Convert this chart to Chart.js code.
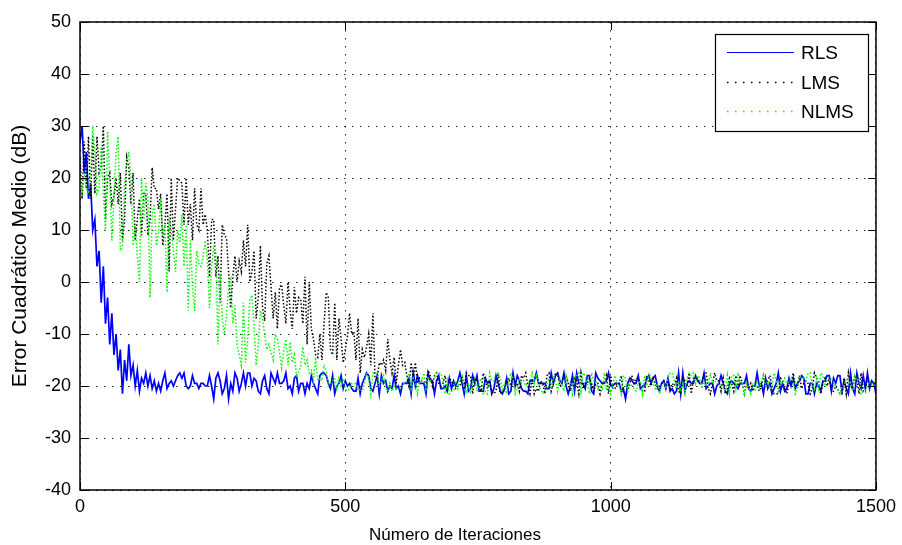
<!DOCTYPE html>
<html>
<head>
<meta charset="utf-8">
<title>Error cuadrático medio</title>
<script src="https://cdn.jsdelivr.net/npm/chart.js@4.4.1/dist/chart.umd.min.js"></script>
<style>
  html, body { margin: 0; padding: 0; background: #fff; }
</style>
</head>
<body>
<canvas id="mse" width="902" height="545"></canvas>
<script>
// error cuadratico medio (dB), una muestra cada 4 iteraciones (0..1500)
const PASO = 4;
const iteraciones = [];
for (let n = 0; n <= 1500; n += PASO) iteraciones.push(n);

const rls = [
  27, 30, 21, 25, 16, 19, 10, 12, 3, 6,
  -4, 3, -8, -3, -12, -6, -14, -10, -17, -13,
  -21.5, -15, -19, -12, -18, -16, -20, -17, -21, -18.5,
  -19.5, -17.5, -20, -18, -20.5, -19,
  -21, -19.5, -21, -19, -17.5, -20.5, -19.5, -19, -20, -19,
  -18, -17.5, -18.5, -17.5, -20, -20.5, -20, -18, -19.5, -19.5,
  -20.5, -19.5, -19.5, -20, -20, -18, -20, -22.5, -18.5, -17.5,
  -19, -21.5, -20.5, -18, -22.5, -19.5, -21, -17.5, -18.5, -21,
  -19.5, -17.5, -20, -17.5, -17.5, -20, -18.5, -19, -21, -21.5,
  -19, -18, -20.5, -21.5, -17.5, -18.5, -19.5, -17.5, -19.5, -19.5,
  -19, -17.5, -20.5, -20, -21.5, -18.5, -18, -21, -19.5, -19.5,
  -21.5, -19.5, -20.5, -18, -19.5, -20.5, -21.5, -18, -17.5, -17.5,
  -18, -19.5, -20.5, -18, -21.5, -20, -19.5, -18, -20.5, -19,
  -20, -19.5, -20.5, -21, -21, -18.5, -21.5, -19.5, -18.5, -17.5,
  -18, -20.5, -21, -19.5, -18, -21.5, -18, -19.5, -19, -21,
  -20, -20.5, -18, -20.5, -20, -21.5, -19.5, -19.5, -19.5, -18.5,
  -21.5, -17.5, -20, -18, -19.5, -19.5, -19.5, -21.5, -17.5, -19,
  -19, -21.5, -19, -18, -20.5, -20.5, -20, -21, -18.5, -20.5,
  -19, -20, -19, -17.5, -19.5, -21.5, -18, -21, -20.5, -18,
  -19.5, -18, -21, -21, -21, -18.5, -19.5, -19, -21.5, -20.5,
  -18, -19.5, -21, -21.5, -20.5, -18.5, -21.5, -21, -17.5, -20,
  -18, -19, -20.5, -21, -21, -21.5, -19, -19, -19, -17.5,
  -19.5, -19.5, -19.5, -19.5, -20.5, -20.5, -17.5, -19.5, -18, -17.5,
  -19, -19.5, -17.5, -20, -21.5, -20, -18, -21, -17.5, -19.5,
  -19.5, -19.5, -20.5, -18, -18, -21, -21.5, -17.5, -18.5, -19,
  -19.5, -19.5, -19, -17.5, -20, -20, -19.5, -19.5, -19.5, -21,
  -20.5, -22.5, -19.5, -18.5, -19, -19.5, -19.5, -18, -20.5, -20,
  -20, -18.5, -18, -19.5, -18.5, -18, -20, -21, -19.5, -19,
  -20.5, -18.5, -21, -20.5, -21.5, -21, -17.5, -21.5, -17.5, -21,
  -19.5, -19, -19.5, -19.5, -18, -19, -19.5, -19.5, -17.5, -20.5,
  -20, -19.5, -19.5, -21.5, -20, -19.5, -18, -19.5, -21, -21.5,
  -19.5, -19, -19.5, -20, -20.5, -19.5, -19.5, -19.5, -18, -20.5,
  -21, -20, -20, -17.5, -20, -19.5, -21.5, -18.5, -20.5, -19.5,
  -21.5, -20.5, -19.5, -17.5, -21, -19.5, -21, -20.5, -18.5, -20,
  -18.5, -20.5, -19.5, -19, -18, -18.5, -21.5, -21.5, -19.5, -19.5,
  -21.5, -19.5, -20, -21, -19, -19, -18, -18, -21, -18.5,
  -19.5, -18, -18, -21, -19, -20.5, -21.5, -17.5, -20.5, -21.5,
  -17.5, -19.5, -20.5, -18, -20.5, -17.5, -20.5, -19, -19.5, -21.5
];

const lms = [
  24, 16, 27, 18, 28, 16, 28, 17, 28, 21,
  22, 30, 12, 20, 21, 15, 16.5, 20, 15, 21,
  8, 12, 24, 22, 15, 21, 8, 12, 16, 9,
  17, 17, 9, 12, 22, 18, 18, 14, 17, 7,
  11, 17, 2, 20, 8, 14, 20, 19.5, 19, 11,
  20, 11, 15, 8, 18, 11, 10, 18, 11, 13,
  10, 1, 12, 12, 1, 5, -4, 11, 9, 8.5,
  2, -5, 1, 5, 0, 4, 2, 8, 3, 11,
  0, 2, 6, -7, -3, 7, -5, -7.5, 3.5, 5,
  -1, -7, -2, -9, -1, -0.5, -4.5, -8, 0, -5.5,
  -9, -1, -6, -3, -3.5, -8, 1, -12, 0, -9,
  -11, -14, -14.5, -10, -15, -8, -2, -3, -13, -14,
  -4, -15, -7, -11, -15.5, -13, -10.5, -6, -10, -9.5,
  -15, -7, -17.5, -13, -14.5, -12.5, -10, -16, -6, -18.5,
  -18.5, -15.5, -16, -15, -17, -11, -15, -17.5, -14.5, -19.5,
  -16, -13, -16, -15.5, -18, -20, -15.5, -18.5, -15.5, -19.5,
  -18.5, -19, -19, -19.5, -17, -18, -20, -18, -17.5, -19.5,
  -20, -19.5, -18, -21, -18.5, -19,
  -20, -20.5, -20, -20,
  -18, -20.5, -17.5, -18, -18, -21.5, -18.5, -19, -20, -21,
  -17.5, -19, -20.5, -19, -21, -21.5, -21, -17.5, -21.5, -21,
  -21, -19, -18.5, -20, -18, -20, -19.5, -21, -18, -18.5,
  -17.5, -20, -21.5, -18.5, -21.5, -20.5, -21, -19, -19.5, -21.5,
  -18, -17.5, -21, -19.5, -17.5, -17.5, -20, -19.5, -18, -18,
  -19.5, -21, -19.5, -18.5, -19, -21.5, -17.5, -20.5, -19.5, -19.5,
  -18.5, -19.5, -21, -19.5, -19.5, -21.5, -19.5, -19.5, -18, -21.5,
  -18, -20.5, -20.5, -19.5, -19.5, -18, -21.5, -21.5, -21, -19.5,
  -18, -19.5, -18.5, -18.5, -19.5, -21, -21, -18, -19, -20,
  -18.5, -19.5, -20.5, -20, -19.5, -19, -19.5, -19.5, -20.5, -19.5,
  -20, -18.5, -21, -21.5, -18.5, -19, -20, -17.5, -21.5, -18.5,
  -18.5, -18.5, -19.5, -19.5, -17.5, -17.5, -20.5, -21.5, -19.5, -17.5,
  -19, -19, -21, -18.5, -21.5, -20.5, -18.5, -19.5, -21, -18,
  -20, -18, -19.5, -21.5, -19.5, -20.5, -19.5, -21, -20, -20,
  -21, -20, -18, -19.5, -19, -18, -20, -21.5, -21.5, -21.5,
  -18.5, -19, -20.5, -21.5, -19.5, -19.5, -17.5, -20, -20, -18,
  -20.5, -19.5, -19, -19.5, -21.5, -20.5, -17.5, -18.5, -19.5, -21.5,
  -19.5, -18.5, -20, -18.5, -21, -21, -20, -20.5, -21.5, -21.5,
  -18.5, -21.5, -17.5, -20, -20.5, -18, -18.5, -21.5, -17.5, -21,
  -20.5, -18.5, -19.5, -19.5, -20, -18.5
];

const nlms = [
  20, 17, 21, 18, 17, 20, 30, 25, 17, 18,
  26, 17, 10, 29, 20, 8, 16.5, 25, 28, 6,
  7, 19, 23, 25, 20, 7, 11, 5, 0, 20,
  12, 19, 16, -3, 13, 15, 7, 9.5, 16, 9,
  11, -2, 12.5, 10, 6, 2, 10, 7.5, 13, 3,
  11, -5.5, 8, -1, -5.5, 6, 3.5, 3, 5, 8,
  4, -5, 3, 7, 5.5, -12, 1.5, -7, -10, -6.5,
  -1, 0.5, -8, -4.5, -12, -14, -16, -4, -15.5, -11,
  -3.5, -2.5, -8.5, -16, -12, -5.5, -7, -10, -13, -12,
  -13.5, -15, -10, -11, -13.5, -16.5, -13, -11, -16, -11.5,
  -15.5, -14, -18, -17.5, -16, -12.5, -16, -15, -17.5, -17,
  -19, -14.5, -19, -18.5, -19, -16, -17, -20, -19.5, -19,
  -18.5, -20.5, -18.5, -20, -18.5, -20.5,
  -21, -20.5, -19.5, -19.5,
  -19.5, -21, -20.5, -21, -19.5, -17.5, -18.5, -21.5, -17.5, -17.5,
  -17.5, -20, -19, -18, -20, -21, -19.5, -21, -20, -20.5,
  -20.5, -20.5, -19.5, -19.5, -19, -17.5, -20.5, -18.5, -19, -21.5,
  -19, -19, -17.5, -20.5, -18.5, -19, -19, -18.5, -17.5, -17.5,
  -17.5, -19, -21.5, -19, -21.5, -21, -21, -19, -20.5, -18.5,
  -18, -20.5, -21.5, -19.5, -21.5, -19, -18.5, -21, -19.5, -18.5,
  -21.5, -21, -21.5, -17.5, -19, -19, -17.5, -17.5, -18.5, -21,
  -19.5, -21.5, -19, -17.5, -18.5, -21.5, -20.5, -18.5, -19.5, -19,
  -20, -19.5, -19, -17.5, -19.5, -18, -19.5, -20.5, -21.5, -21,
  -19.5, -18.5, -20.5, -18, -19, -21, -18.5, -19.5, -21, -18,
  -19.5, -19.5, -21.5, -18, -18, -17.5, -21, -17.5, -18, -19.5,
  -21.5, -17.5, -19, -19, -20.5, -20, -20.5, -17.5, -20.5, -20,
  -21.5, -19.5, -18, -19.5, -20, -21.5, -18, -18.5, -21, -19.5,
  -20, -20.5, -21, -19.5, -19, -21.5, -18, -20, -17.5, -18.5,
  -19.5, -20.5, -19.5, -21.5, -20, -19.5, -20.5, -18.5, -17.5, -17.5,
  -19, -20.5, -19, -21, -19.5, -21.5, -18.5, -17.5, -18, -17.5,
  -19.5, -18, -18.5, -20.5, -19, -20, -20, -17.5, -19.5, -19,
  -19.5, -19.5, -20, -20, -21, -18, -21.5, -18, -18, -20.5,
  -17.5, -19.5, -19.5, -21.5, -19.5, -20.5, -21.5, -19.5, -21, -19,
  -20.5, -19, -18, -20, -19, -20.5, -20, -17.5, -19, -21.5,
  -19, -19.5, -18.5, -19.5, -19, -18.5, -19, -21.5, -20.5, -18,
  -18.5, -18.5, -19, -17.5, -17.5, -19.5, -21, -18.5, -20.5, -17.5,
  -18, -20, -19, -19, -18.5, -19, -20.5, -20.5, -21.5, -20,
  -20, -18.5, -19, -20, -21, -18, -19, -18.5, -21.5, -21,
  -21, -20, -19, -19.5, -20, -18.5
];

const yTicks = [-40, -30, -20, -10, 0, 10, 20, 30, 40, 50];
const xTicks = [0, 500, 1000, 1500];
const tituloX = 'Número de Iteraciones';

const FUENTE = '"Liberation Sans", Arial, sans-serif';

// caja de los ejes con marcas hacia dentro y titulo del eje x
const marcoEjes = {
  id: 'marcoEjes',
  afterDatasetsDraw(chart) {
    const { ctx, chartArea: a, scales: { x, y } } = chart;
    const largo = 8;
    ctx.save();
    ctx.strokeStyle = '#000';
    ctx.lineWidth = 1.5;
    ctx.setLineDash([]);
    ctx.strokeRect(a.left, a.top, a.right - a.left, a.bottom - a.top);
    ctx.lineWidth = 1;
    ctx.beginPath();
    xTicks.forEach(v => {
      const px = Math.round(x.getPixelForValue(v)) + 0.5;
      ctx.moveTo(px, a.bottom); ctx.lineTo(px, a.bottom - largo);
      ctx.moveTo(px, a.top); ctx.lineTo(px, a.top + largo);
    });
    yTicks.forEach(v => {
      const py = Math.round(y.getPixelForValue(v)) + 0.5;
      ctx.moveTo(a.left, py); ctx.lineTo(a.left + largo, py);
      ctx.moveTo(a.right, py); ctx.lineTo(a.right - largo, py);
    });
    ctx.stroke();

    ctx.fillStyle = '#000';
    ctx.font = '17px ' + FUENTE;
    ctx.textAlign = 'center';
    ctx.textBaseline = 'alphabetic';
    ctx.fillText(tituloX, (a.left + a.right) / 2 - 23, chart.height - 5);
    ctx.restore();
  }
};

// leyenda enmarcada en la esquina superior derecha
const leyendaCaja = {
  id: 'leyendaCaja',
  afterDraw(chart) {
    const { ctx, chartArea: a } = chart;
    const w = 153, h = 97;
    const x0 = a.right - 8 - w;
    const y0 = a.top + 12;
    ctx.save();
    ctx.fillStyle = '#fff';
    ctx.fillRect(x0, y0, w, h);
    ctx.strokeStyle = '#000';
    ctx.lineWidth = 1.2;
    ctx.setLineDash([]);
    ctx.strokeRect(x0 + 0.5, y0 + 0.5, w, h);
    ctx.font = '19px ' + FUENTE;
    ctx.textBaseline = 'middle';
    ctx.textAlign = 'left';
    chart.data.datasets.forEach((ds, i) => {
      const yy = Math.round(y0 + 18 + i * 29.5) + 0.5;
      ctx.strokeStyle = ds.borderColor;
      ctx.lineWidth = ds.borderDash ? 1.5 : 1.2;
      ctx.setLineDash(ds.borderDash ? [1.5, 6.5] : []);
      ctx.beginPath();
      ctx.moveTo(x0 + 12, yy);
      ctx.lineTo(x0 + 79, yy);
      ctx.stroke();
      ctx.fillStyle = '#000';
      ctx.fillText(ds.label, x0 + 86, yy + 1);
    });
    ctx.restore();
  }
};

new Chart(document.getElementById('mse'), {
  type: 'line',
  data: {
    labels: iteraciones,
    datasets: [
      {
        label: 'RLS',
        data: rls,
        borderColor: '#0000ff',
        borderWidth: 1.7,
        order: 2
      },
      {
        label: 'LMS',
        data: lms,
        borderColor: '#000000',
        borderWidth: 1.5,
        borderDash: [1.5, 2],
        order: 1
      },
      {
        label: 'NLMS',
        data: nlms,
        borderColor: '#00ff00',
        borderWidth: 1.5,
        borderDash: [1.5, 2],
        order: 0
      }
    ]
  },
  options: {
    responsive: false,
    animation: false,
    devicePixelRatio: 1,
    layout: { padding: { top: 22, right: 24, left: 0, bottom: 0 } },
    elements: {
      point: { radius: 0, hoverRadius: 0 },
      line: { tension: 0, fill: false }
    },
    plugins: {
      legend: { display: false },
      tooltip: { enabled: false }
    },
    scales: {
      x: {
        type: 'linear',
        min: 0,
        max: 1500,
        afterBuildTicks: s => { s.ticks = xTicks.map(v => ({ value: v })); },
        afterFit: s => { s.height = 55; },
        ticks: {
          color: '#000',
          padding: 6,
          maxRotation: 0,
          callback: v => String(v),
          font: { family: FUENTE, size: 18 }
        },
        grid: { color: '#222', lineWidth: 1, drawTicks: false },
        border: { display: false, dash: [1.5, 6.5] }
      },
      y: {
        min: -40,
        max: 50,
        afterBuildTicks: s => { s.ticks = yTicks.map(v => ({ value: v })); },
        afterFit: s => { s.width = 80; },
        ticks: {
          color: '#000',
          padding: 9,
          font: { family: FUENTE, size: 18 }
        },
        grid: { color: '#222', lineWidth: 1, drawTicks: false },
        border: { display: false, dash: [1.5, 6.5] },
        title: {
          display: true,
          text: 'Error Cuadrático Medio (dB)',
          color: '#000',
          padding: { top: 8, bottom: 0 },
          font: { family: FUENTE, size: 21 }
        }
      }
    }
  },
  plugins: [marcoEjes, leyendaCaja]
});
</script>
</body>
</html>
